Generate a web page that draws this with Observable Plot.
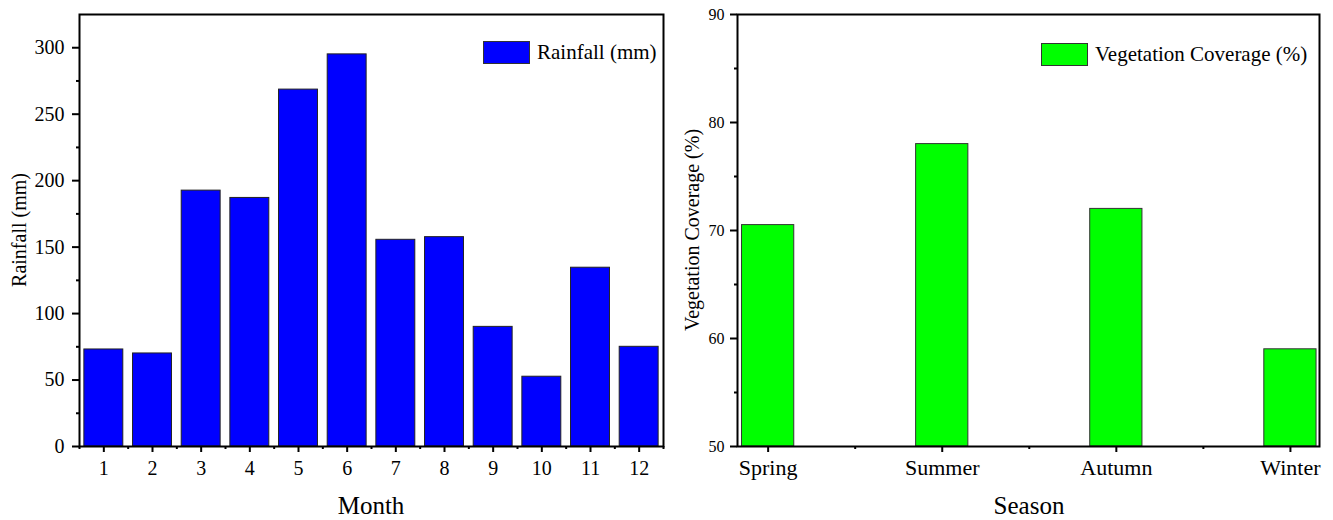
<!DOCTYPE html>
<html>
<head>
<meta charset="utf-8">
<script src="https://cdn.jsdelivr.net/npm/d3@7"></script>
<script src="https://cdn.jsdelivr.net/npm/@observablehq/plot@0.6"></script>
<style>
  html, body { margin: 0; padding: 0; background: #fff; }
  #root { position: relative; width: 1333px; height: 520px; overflow: hidden; font-family: "Liberation Serif", "Times New Roman", serif; color: #000; }
  .abs { position: absolute; }
  .title { position: absolute; white-space: nowrap; transform: translate(-50%, -50%); line-height: 1; }
  .ytitle { position: absolute; white-space: nowrap; transform: translate(-50%, -50%) rotate(-90deg); line-height: 1; }
  .legend { position: absolute; display: flex; align-items: center; white-space: nowrap; font-size: 21px; }
  .swatch { border: 1px solid #333; box-sizing: border-box; margin-right: 7px; }
</style>
</head>
<body>
<div id="root"></div>
<script>
// ---- data ----
const months = [1, 2, 3, 4, 5, 6, 7, 8, 9, 10, 11, 12];
const rainfall = [73, 70, 192.5, 187, 268.5, 295, 155.5, 157.5, 90, 52.5, 134.5, 75];
const rainTicks = [0, 50, 100, 150, 200, 250, 300];

const seasons = ["Spring", "Summer", "Autumn", "Winter"];
const coverage = [70.5, 78.0, 72.0, 59.0];
const coverTicks = [50, 60, 70, 80, 90];

const rainData = months.map((m, i) => ({month: m, rain: rainfall[i]}));
const coverData = seasons.map((s, i) => ({pos: i + 1, season: s, cover: coverage[i]}));

const font = "'Liberation Serif', 'Times New Roman', serif";
const root = document.getElementById("root");

// ---- left chart: rainfall ----
const left = Plot.plot({
  width: 700, height: 520,
  marginTop: 14, marginLeft: 79, marginRight: 37, marginBottom: 74,
  style: {fontFamily: font, fontSize: "20px", color: "#000", background: "transparent", overflow: "visible"},
  x: {domain: [0.5, 12.5]},
  y: {domain: [0, 325]},
  marks: [
    Plot.rect(rainData, {x1: d => d.month - 0.4, x2: d => d.month + 0.4, y1: 0, y2: "rain", fill: "#0000ff", stroke: "#222", strokeWidth: 1}),
    Plot.axisX({ticks: months, tickSize: 6, tickPadding: 8, tickFormat: d => String(d), label: null, strokeWidth: 2}),
    Plot.axisX({ticks: d3.range(0.5, 13, 1), tickSize: 3, tickFormat: () => "", label: null, strokeWidth: 2}),
    Plot.axisY({ticks: rainTicks, tickSize: 7, tickPadding: 8, label: null, strokeWidth: 2}),
    Plot.axisY({ticks: d3.range(25, 300, 50), tickSize: 3, tickFormat: () => "", label: null, strokeWidth: 2}),
    Plot.frame({stroke: "#000", strokeWidth: 2})
  ]
});
left.classList.add("abs");
left.style.left = "0px";
left.style.top = "0px";
root.appendChild(left);

// ---- right chart: vegetation coverage ----
const right = Plot.plot({
  width: 663, height: 520,
  marginTop: 14, marginLeft: 67, marginRight: 14, marginBottom: 74,
  style: {fontFamily: font, fontSize: "16px", color: "#000", background: "transparent", overflow: "visible"},
  x: {domain: [0.824, 4.167]},
  y: {domain: [50, 90]},
  marks: [
    Plot.rect(coverData, {x1: d => d.pos - 0.15, x2: d => d.pos + 0.15, y1: 50, y2: "cover", fill: "#00ff00", stroke: "#333", strokeWidth: 1}),
    Plot.axisX({ticks: [1, 2, 3, 4], tickSize: 6, tickPadding: 7, tickFormat: d => seasons[d - 1], label: null, fontSize: 22, strokeWidth: 2}),
    Plot.axisX({ticks: [1.5, 2.5, 3.5], tickSize: 3, tickFormat: () => "", label: null, strokeWidth: 2}),
    Plot.axisY({ticks: coverTicks, tickSize: 7, tickPadding: 6, label: null, strokeWidth: 2}),
    Plot.axisY({ticks: [55, 65, 75, 85], tickSize: 3, tickFormat: () => "", label: null, strokeWidth: 2}),
    Plot.frame({stroke: "#000", strokeWidth: 2})
  ]
});
right.classList.add("abs");
right.style.left = "670px";
right.style.top = "0px";
root.appendChild(right);

// ---- titles ----
function addTitle(text, cls, x, y, size) {
  const d = document.createElement("div");
  d.className = cls;
  d.textContent = text;
  d.style.left = x + "px";
  d.style.top = y + "px";
  d.style.fontSize = size + "px";
  root.appendChild(d);
}
addTitle("Month", "title", 371, 505, 25);
addTitle("Season", "title", 1029, 505, 25);
addTitle("Rainfall (mm)", "ytitle", 19, 230, 20);
addTitle("Vegetation Coverage (%)", "ytitle", 692, 230, 20);

// ---- legends ----
function addLegend(text, color, x, y, w, h) {
  const d = document.createElement("div");
  d.className = "legend";
  d.style.left = x + "px";
  d.style.top = y + "px";
  const sw = document.createElement("div");
  sw.className = "swatch";
  sw.style.width = w + "px";
  sw.style.height = h + "px";
  sw.style.background = color;
  const t = document.createElement("span");
  t.textContent = text;
  d.appendChild(sw);
  d.appendChild(t);
  root.appendChild(d);
}
addLegend("Rainfall (mm)", "#0000ff", 483, 40, 47, 23);
addLegend("Vegetation Coverage (%)", "#00ff00", 1041, 42, 47, 23);
</script>
</body>
</html>
